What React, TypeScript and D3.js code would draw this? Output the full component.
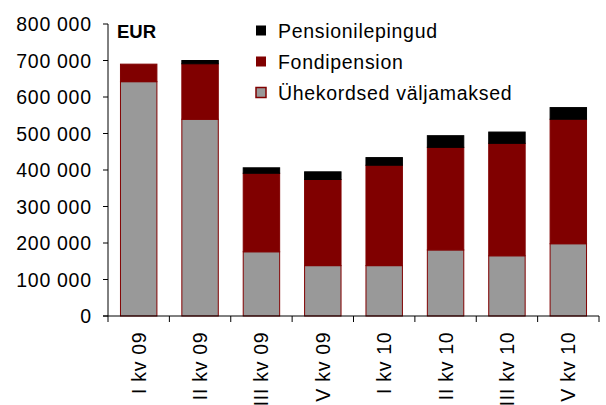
import React from "react";
import * as d3 from "d3";

const categories = ["I kv 09", "II kv 09", "III kv 09", "V kv 09", "I kv 10", "II kv 10", "III kv 10", "V kv 10"];
const uhekordsed = [642000, 539000, 176000, 138000, 138000, 181000, 165000, 198000];
const fondipension = [48000, 152000, 215000, 236000, 275000, 281000, 308000, 341000];
const pensionilepingud = [0, 9000, 15000, 21000, 21000, 32000, 31000, 32000];
const yTicks = [0, 100000, 200000, 300000, 400000, 500000, 600000, 700000, 800000];
const seriesNames = ["Pensionilepingud", "Fondipension", "Ühekordsed väljamaksed"];

const W = 606, H = 405;
const left = 108, right = 599, top = 24, bottom = 316;
const FONT = "'Liberation Sans', Arial, sans-serif";
const FS = 19.5;
const LS = 0.7;

export default function App() {
  const x = d3.scaleBand<string>().domain(categories).range([left, right]).paddingInner(0.39).paddingOuter(0.195);
  const y = d3.scaleLinear().domain([0, 800000]).range([bottom, top]);
  const step = x.step();
  const fmt = (v: number) => d3.format(",")(v).replace(/,/g, " ");

  const stackData = categories.map((c, i) => ({ c, u: uhekordsed[i], f: fondipension[i], p: pensionilepingud[i] }));
  const stack = d3.stack<any>().keys(["u", "f", "p"]);
  const layers = stack(stackData);
  const fills: Record<string, string> = { u: "#999999", f: "#800000", p: "#000000" };
  const strokes: Record<string, string> = { u: "#800000", f: "#800000", p: "#000000" };

  const legendFill = ["#000000", "#800000", "#999999"];
  const legendStroke = ["none", "none", "#800000"];

  return (
    <svg width={W} height={H} style={{ position: "absolute", left: 0, top: 0, background: "#fff" }} fontFamily={FONT}>
      {/* bars */}
      {layers.map((layer) => (
        <g key={layer.key}>
          {layer.map((d, i) => {
            const h = y(d[0]) - y(d[1]);
            if (h <= 0) return null;
            return (
              <rect key={i} x={x(categories[i])! + 0.5} y={y(d[1])} width={x.bandwidth() - 1} height={h}
                fill={fills[layer.key]} stroke={strokes[layer.key]} strokeWidth={1} />
            );
          })}
        </g>
      ))}
      {/* y axis */}
      <line x1={left} x2={left} y1={top} y2={bottom} stroke="#000" strokeWidth={1} />
      {yTicks.map((t) => (
        <g key={t}>
          <line x1={left - 5} x2={left} y1={y(t)} y2={y(t)} stroke="#000" />
          <text x={91 + LS} y={y(t)} dy="0.36em" textAnchor="end" fontSize={FS} letterSpacing={LS} fill="#000">{fmt(t)}</text>
        </g>
      ))}
      {/* x axis */}
      <line x1={left - 5} x2={right} y1={bottom} y2={bottom} stroke="#000" />
      {d3.range(categories.length + 1).map((i) => (
        <line key={i} x1={left + i * step} x2={left + i * step} y1={bottom} y2={bottom + 6} stroke="#000" />
      ))}
      {categories.map((c) => {
        const cx = x(c)! + x.bandwidth() / 2;
        return (
          <text key={c} transform={`translate(${cx},${331 + LS}) rotate(-90)`} dy="0.36em" textAnchor="end" fontSize={FS} letterSpacing={LS} fill="#000">{c}</text>
        );
      })}
      {/* EUR label */}
      <text x={117} y={38} fontSize={18.5} fontWeight="bold" fill="#000">EUR</text>
      {/* legend */}
      {seriesNames.map((n, i) => (
        <g key={n}>
          <rect x={256} y={25.5 + i * 31} width={10} height={10} fill={legendFill[i]} stroke={legendStroke[i]} strokeWidth={legendStroke[i] === "none" ? 0 : 1.5} />
          <text x={278} y={30.5 + i * 31} dy="0.36em" fontSize={FS} letterSpacing={LS} fill="#000">{n}</text>
        </g>
      ))}
    </svg>
  );
}
